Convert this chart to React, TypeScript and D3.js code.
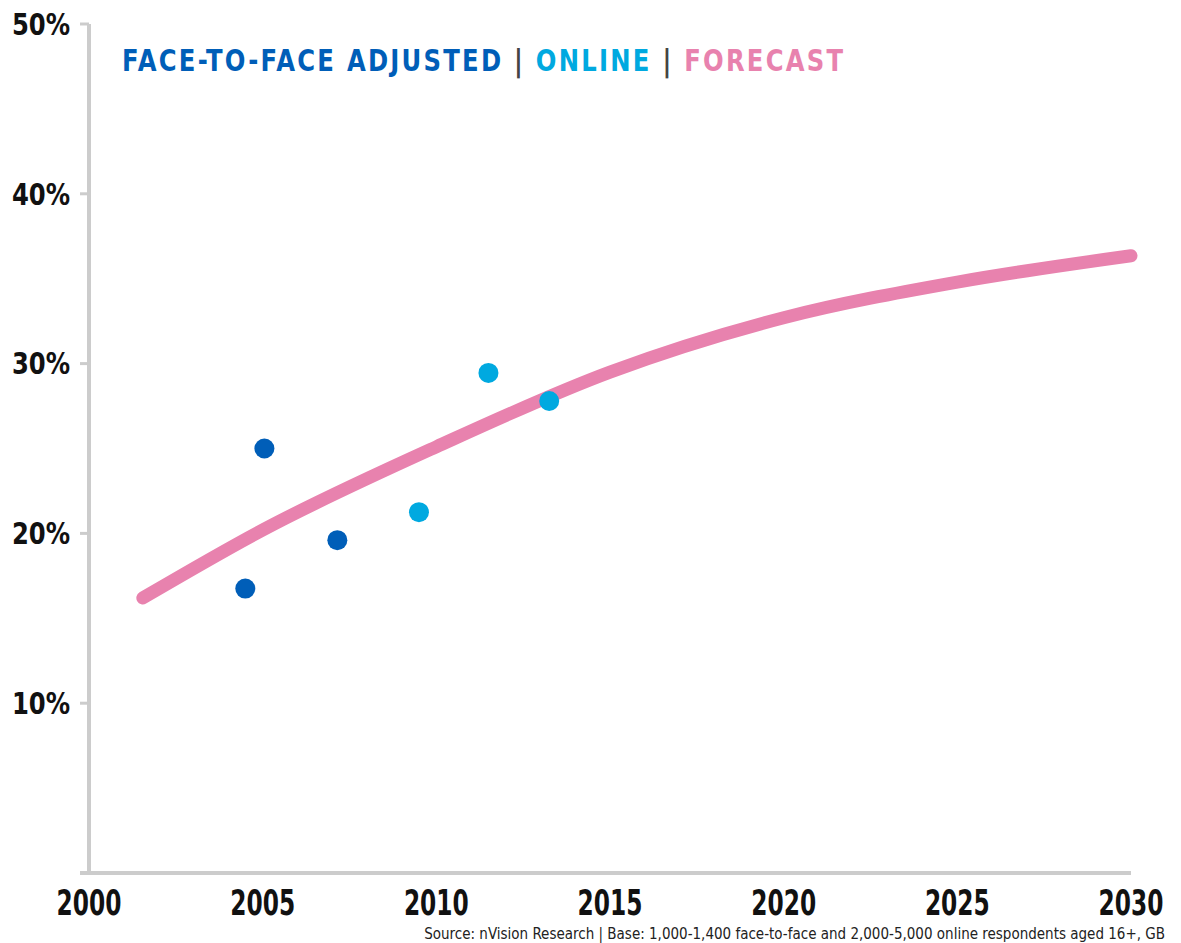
import * as d3 from "d3";

const W = 1181;
const H = 943;
const FONT = "'Liberation Sans Narrow', 'DejaVu Sans Condensed', 'Roboto Condensed', sans-serif";

// data
const yearTicks = [2000, 2005, 2010, 2015, 2020, 2025, 2030];
const pctTicks = [10, 20, 30, 40, 50];

const faceYears = [2004.5, 2005.05, 2007.15];
const faceValues = [16.75, 25.0, 19.6];

const onlineYears = [2009.5, 2011.5, 2013.25];
const onlineValues = [21.25, 29.45, 27.8];

const forecastYears = [2001.55, 2005, 2010, 2015, 2020, 2025, 2030];
const forecastValues = [16.2, 20.2, 25.1, 29.5, 32.7, 34.8, 36.35];

const source = "Source: nVision Research | Base: 1,000-1,400 face-to-face and 2,000-5,000 online respondents aged 16+, GB";

const DARK = "#005eb8";
const LIGHT = "#00a9e0";
const PINK = "#e882ae";
const GREY = "#cccccc";

export default function App() {
  const x = d3.scaleLinear().domain([2000, 2030]).range([89, 1131]);
  const y = d3.scaleLinear().domain([0, 50]).range([873, 24]);

  const line = d3
    .line<number>()
    .x((d, i) => x(forecastYears[i]))
    .y((d) => y(d))
    .curve(d3.curveMonotoneX);

  return (
    <svg
      width={W}
      height={H}
      style={{ position: "absolute", left: 0, top: 0, background: "#fff" }}
      fontFamily={FONT}
    >
      {/* axes */}
      <line x1={x(2000)} x2={x(2000)} y1={y(50)} y2={y(0) + 2} stroke={GREY} strokeWidth={4} />
      <line x1={x(2000) - 9} x2={x(2030)} y1={y(0)} y2={y(0)} stroke={GREY} strokeWidth={4} />
      {pctTicks.map((t) => (
        <g key={t} >
          <line x1={x(2000) - 9} x2={x(2000)} y1={y(t)} y2={y(t)} stroke={GREY} strokeWidth={3} />
          <g transform={`translate(70,${y(t)}) scale(0.9,1)`}>
            <text dy="0.36em" textAnchor="end" fontSize={30} fontWeight="bold" fill="#111">
              {t}%
            </text>
          </g>
        </g>
      ))}
      {yearTicks.map((t) => (
        <g key={t} transform={`translate(${x(t)},915) scale(0.72,1)`}>
          <text textAnchor="middle" fontSize={36} fontWeight="bold" fill="#111">
            {t}
          </text>
        </g>
      ))}

      {/* forecast curve */}
      <path
        d={line(forecastValues) || ""}
        fill="none"
        stroke={PINK}
        strokeWidth={13}
        strokeLinecap="round"
      />

      {faceValues.map((v, i) => (
        <circle key={"f" + i} cx={x(faceYears[i])} cy={y(v)} r={10} fill={DARK} />
      ))}
      {onlineValues.map((v, i) => (
        <circle key={"o" + i} cx={x(onlineYears[i])} cy={y(v)} r={10} fill={LIGHT} />
      ))}

      {/* legend */}
      <g transform="translate(122,71) scale(0.9,1)">
        <text fontSize={30} fontWeight="bold" letterSpacing={2.5}>
          <tspan fill={DARK}>FACE-TO-FACE ADJUSTED </tspan>
          <tspan fill="#444">| </tspan>
          <tspan fill={LIGHT}>ONLINE </tspan>
          <tspan fill="#444">| </tspan>
          <tspan fill={PINK}>FORECAST</tspan>
        </text>
      </g>

      <text x={1165} y={939} textAnchor="end" fontSize={15} fill="#222">
        {source}
      </text>
    </svg>
  );
}
